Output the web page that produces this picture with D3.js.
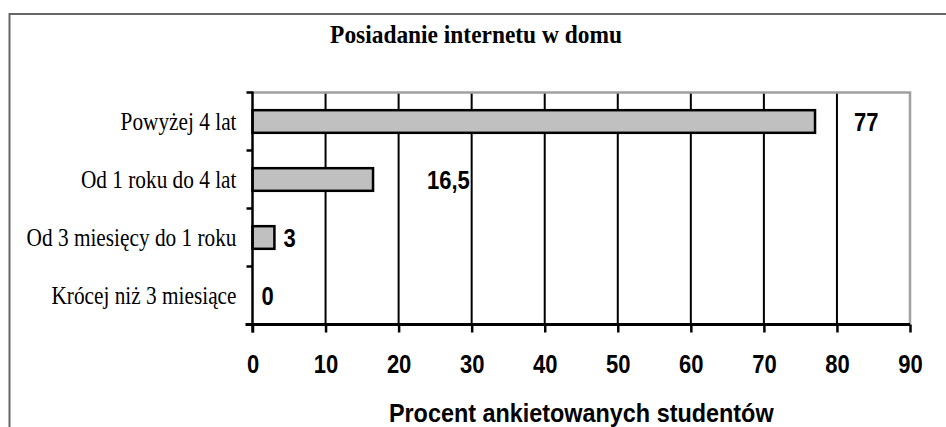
<!DOCTYPE html>
<html>
<head>
<meta charset="utf-8">
<script src="https://cdn.jsdelivr.net/npm/d3@7"></script>
<style>
  body { margin: 0; background: #fff; }
  svg { display: block; }
</style>
</head>
<body>
<script>
// chart data
var categories = ["Powyżej 4 lat", "Od 1 roku do 4 lat", "Od 3 miesięcy do 1 roku", "Krócej niż 3 miesiące"];
var values = [77, 16.5, 3, 0];
var xTicks = [0, 10, 20, 30, 40, 50, 60, 70, 80, 90];
var title = "Posiadanie internetu w domu";
var xTitle = "Procent ankietowanych studentów";

var width = 946, height = 427;
var margin = { top: 92.5, right: 36, bottom: 102.5, left: 252.5 };

var svg = d3.select("body").append("svg")
  .attr("width", width)
  .attr("height", height);

// outer frame (runs off the picture on right / bottom)
svg.append("rect")
  .attr("x", 9.5).attr("y", 14)
  .attr("width", 960).attr("height", 440)
  .attr("fill", "none")
  .attr("stroke", "#666")
  .attr("stroke-width", 2);

var x = d3.scaleLinear().domain([0, 90]).range([margin.left, width - margin.right]);
var y = d3.scaleBand().domain(categories).range([margin.top, height - margin.bottom]).paddingInner(0).paddingOuter(0);

var stretch = "scale(1,1.14)";

// title
svg.append("text")
  .attr("transform", "translate(476,43) scale(1,1.05)")
  .attr("text-anchor", "middle")
  .style("font-family", "'Liberation Serif', 'Times New Roman', serif")
  .style("font-weight", "bold")
  .style("font-size", "23.4px")
  .text(title);

// gridlines
svg.append("g").selectAll("line")
  .data(xTicks.filter(d => d > 0 && d < 90))
  .enter().append("line")
  .attr("x1", d => x(d)).attr("x2", d => x(d))
  .attr("y1", margin.top).attr("y2", height - margin.bottom)
  .attr("stroke", "#000").attr("stroke-width", 2);

// plot area top/right border
svg.append("path")
  .attr("d", "M" + x(0) + "," + margin.top + "H" + x(90) + "V" + (height - margin.bottom))
  .attr("fill", "none")
  .attr("stroke", "#a0a0a0")
  .attr("stroke-width", 2.5);

// bars
svg.append("g").selectAll("rect")
  .data(values)
  .enter().append("rect")
  .attr("x", x(0))
  .attr("y", (d, i) => y(categories[i]) + y.bandwidth() * 0.305)
  .attr("width", d => x(d) - x(0))
  .attr("height", y.bandwidth() * 0.39)
  .attr("fill", "#c0c0c0")
  .attr("stroke", "#000")
  .attr("stroke-width", 2.5)
  .style("display", d => d > 0 ? null : "none");

// value labels
var labelDx = [39, 54, 9, 9];
var fmt = d => String(d).replace(".", ",");
svg.append("g").selectAll("text")
  .data(values)
  .enter().append("text")
  .attr("transform", (d, i) => "translate(" + (x(d) + labelDx[i]) + "," + (y(categories[i]) + y.bandwidth() / 2 + 9) + ") " + stretch)
  .style("font-family", "'Liberation Sans', Arial, sans-serif")
  .style("font-weight", "bold")
  .style("font-size", "22px")
  .text(fmt);

// x axis
var xAxis = d3.axisBottom(x).tickValues(xTicks).tickSize(8).tickPadding(0).tickFormat(d3.format("d"));
var gx = svg.append("g")
  .attr("transform", "translate(0," + (height - margin.bottom) + ")")
  .call(xAxis);
gx.select(".domain").remove();
gx.append("line").attr("x1", x(0) - 7).attr("x2", x(90)).attr("stroke", "#000").attr("stroke-width", 3);
gx.selectAll(".tick line").attr("stroke", "#000").attr("stroke-width", 2.5);
gx.selectAll(".tick text").remove();
gx.selectAll(".tick").append("text")
  .attr("transform", "translate(0,48) " + stretch)
  .attr("text-anchor", "middle")
  .attr("fill", "#000")
  .style("font-family", "'Liberation Sans', Arial, sans-serif")
  .style("font-weight", "bold")
  .style("font-size", "22px")
  .text(d => d);

// y axis
var yBounds = categories.map(c => y(c)).concat([height - margin.bottom]);
svg.append("line")
  .attr("x1", x(0)).attr("x2", x(0))
  .attr("y1", margin.top - 1).attr("y2", height - margin.bottom + 8)
  .attr("stroke", "#000").attr("stroke-width", 2.5);
svg.append("g").selectAll("line")
  .data(yBounds)
  .enter().append("line")
  .attr("x1", x(0) - 6).attr("x2", x(0))
  .attr("y1", d => d).attr("y2", d => d)
  .attr("stroke", "#000").attr("stroke-width", 2.5);
svg.append("g").selectAll("text")
  .data(categories)
  .enter().append("text")
  .attr("transform", d => "translate(" + (x(0) - 16) + "," + (y(d) + y.bandwidth() / 2 + 8) + ") scale(1,1.22)")
  .attr("text-anchor", "end")
  .style("font-family", "'Liberation Serif', 'Times New Roman', serif")
  .style("font-size", "21.3px")
  .text(d => d);

// x axis title
svg.append("text")
  .attr("transform", "translate(" + ((x(0) + x(90)) / 2) + ",422) " + stretch)
  .attr("text-anchor", "middle")
  .style("font-family", "'Liberation Sans', Arial, sans-serif")
  .style("font-weight", "bold")
  .style("font-size", "23.4px")
  .text(xTitle);
</script>
</body>
</html>
